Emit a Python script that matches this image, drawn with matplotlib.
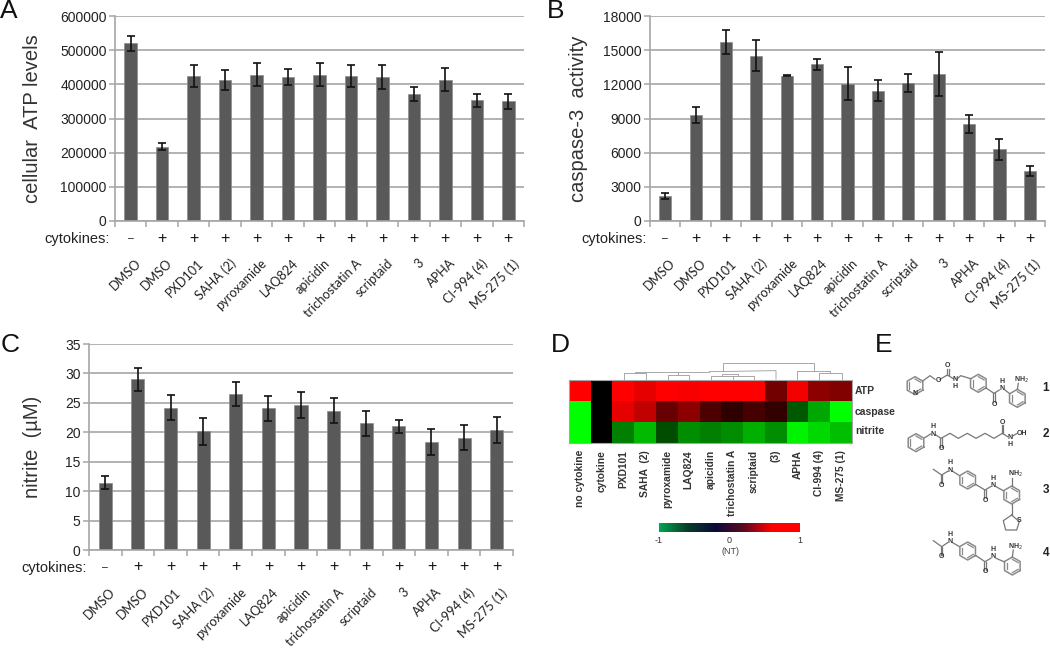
import numpy as np
import matplotlib as mpl
mpl.use('Agg')
import matplotlib.pyplot as plt
from matplotlib.colors import LinearSegmentedColormap

plt.rcParams['font.family'] = ['Liberation Sans', 'DejaVu Sans']

compounds = ['DMSO', 'DMSO', 'PXD101', 'SAHA (2)', 'pyroxamide', 'LAQ824', 'apicidin',
             'trichostatin A', 'scriptaid', '3', 'APHA', 'CI-994 (4)', 'MS-275 (1)']
cytokines = ['\u2013', '+', '+', '+', '+', '+', '+', '+', '+', '+', '+', '+', '+']

atp = [520000, 217000, 424000, 412000, 428000, 421000, 428000, 425000, 422000, 372000, 414000, 353000, 350000]
atp_err = [22000, 10000, 33000, 29000, 33000, 23000, 33000, 33000, 35000, 20000, 33000, 19000, 22000]
atp_ticks = [0, 100000, 200000, 300000, 400000, 500000, 600000]

caspase = [2200, 9300, 15700, 14500, 12750, 13750, 12050, 11450, 12150, 12900, 8500, 6300, 4400]
caspase_err = [300, 700, 1050, 1350, 60, 480, 1450, 900, 780, 1950, 780, 900, 470]
caspase_ticks = [0, 3000, 6000, 9000, 12000, 15000, 18000]

nitrite = [11.4, 29, 24.2, 20.2, 26.5, 24.1, 24.6, 23.7, 21.5, 21, 18.3, 19.1, 20.4]
nitrite_err = [1.1, 2, 2.1, 2.3, 2.1, 2.1, 2.2, 2.2, 2.1, 1.1, 2.2, 2.1, 2.2]
nitrite_ticks = [0, 5, 10, 15, 20, 25, 30, 35]

heat_cols = ['no cytokine', 'cytokine', 'PXD101', 'SAHA  (2)', 'pyroxamide', 'LAQ824', 'apicidin',
             'trichostatin A', 'scriptaid', '(3)', 'APHA', 'CI-994 (4)', 'MS-275 (1)']
heat_rows = ['ATP', 'caspase', 'nitrite']
heat_atp = [1, 0, 1, .9, 1, .97, 1, 1, 1, .45, .95, .55, .5]
heat_caspase = [-1, 0, .9, .75, .4, .55, .3, .18, .28, .2, -.35, -.65, -1]
heat_nitrite = [-1, 0, -.5, -.72, -.3, -.55, -.5, -.55, -.68, -.55, -.95, -.85, -.75]

# dendrogram and structures, in 3x crop pixels
dendro = [[(520, 122), (520, 98), (792, 98), (792, 122)],
          [(255, 125), (478, 125)], [(222, 147), (222, 130), (288, 130), (288, 147)],
          [(353, 147), (353, 135), (418, 135), (418, 147)], [(385, 135), (385, 128)],
          [(482, 147), (482, 138), (612, 138), (612, 147)], [(515, 138), (515, 133), (565, 133), (565, 138)],
          [(548, 147), (548, 138)], [(478, 125), (678, 122), (678, 147)],
          [(742, 147), (742, 122), (840, 122), (840, 130)], [(808, 147), (808, 130), (875, 130), (875, 147)]]

rings = [(225, 167), (415, 160), (532, 205), (228, 338), (383, 450), (515, 495), (383, 663), (517, 708)]
bonds = [[(248, 153), (270, 137), (285, 148)], [(300, 148), (322, 135), (340, 146)], [(352, 146), (362, 137), (392, 146)],
         [(322, 135), (322, 118)], [(326, 135), (326, 118)], [(438, 174), (462, 190), (478, 180)], [(460, 190), (460, 215)],
         [(464, 190), (464, 215)], [(495, 180), (509, 191)], [(532, 178), (535, 160)],
         [(254, 323), (272, 312)], [(286, 314), (303, 325), (330, 310), (355, 325), (382, 310), (408, 325), (435, 310),
                                    (462, 325), (487, 310), (503, 320)],
         [(301, 325), (301, 350)], [(305, 325), (305, 350)], [(485, 310), (485, 285)], [(489, 310), (489, 285)], [(518, 318), (530, 311)],
         [(280, 418), (305, 435), (323, 424)], [(303, 435), (303, 460)], [(307, 435), (307, 460)], [(338, 424), (357, 436)],
         [(408, 464), (435, 480), (452, 470)], [(433, 480), (433, 505)], [(437, 480), (437, 505)], [(468, 470), (490, 482)],
         [(515, 468), (515, 445)], [(515, 522), (515, 555)],
         [(280, 632), (305, 650), (323, 638)], [(303, 650), (303, 675)], [(307, 650), (307, 675)], [(338, 638), (357, 649)],
         [(408, 677), (435, 695), (452, 685)], [(433, 695), (433, 720)], [(437, 695), (437, 720)], [(468, 685), (492, 695)],
         [(517, 681), (520, 660)]]
thiophene = [(515, 555), (490, 572), (497, 600), (530, 600), (538, 575), (515, 555)]
atoms = [('N', 225, 190), ('O', 295, 150), ('O', 322, 106), ('N', 345, 148), ('H', 345, 170), ('O', 462, 222), ('N', 487, 176),
         ('H', 487, 154), ('NH$_2$', 545, 150), ('N', 280, 312), ('H', 280, 290), ('O', 305, 356), ('O', 487, 278),
         ('N', 511, 322), ('H', 511, 344), ('OH', 545, 310), ('O', 305, 466), ('N', 330, 421), ('H', 330, 399), ('O', 435, 510),
         ('N', 460, 467), ('H', 460, 445), ('NH$_2$', 527, 433), ('S', 538, 572), ('O', 305, 680), ('N', 330, 634), ('H', 330, 612),
         ('O', 435, 725), ('N', 460, 680), ('H', 460, 658), ('NH$_2$', 527, 650)]
numbers = [('1', 617, 175), ('2', 617, 313), ('3', 617, 480), ('4', 617, 668)]


def add_axes_px(fig, left, top, right, bottom):
    return fig.add_axes([left / 1050, 1 - bottom / 649, (right - left) / 1050, (bottom - top) / 649])


def bar_panel(fig, box, values, errors, ticks, ylabel, ylabel_x, cyto_x):
    ax = add_axes_px(fig, *box)
    x = np.arange(len(values))
    ax.set_axisbelow(True)
    ax.bar(x, values, width=0.4, color='#595959', edgecolor='#8c8c8c', linewidth=0.5)
    ax.errorbar(x, values, yerr=errors, fmt='none', ecolor='#111111', elinewidth=1.2, capsize=3.2, capthick=1.2)
    ax.set_xlim(-0.5, len(values) - 0.5)
    ax.set_ylim(ticks[0], ticks[-1])
    ax.set_yticks(ticks)
    ax.set_yticklabels([str(t) for t in ticks], fontsize=10, color='#222222')
    ax.set_xticks(np.arange(len(values) + 1) - 0.5)
    ax.set_xticklabels([])
    ax.tick_params(axis='both', length=4, width=1.1, color='#a6a6a6', pad=2)
    ax.grid(axis='y', color='#b2b2b2', linewidth=1.4)
    for side in ['top', 'right']:
        ax.spines[side].set_visible(False)
    for side in ['left', 'bottom']:
        ax.spines[side].set_color('#a6a6a6')
        ax.spines[side].set_linewidth(1.2)
    trans = ax.get_xaxis_transform()
    for i, name in enumerate(compounds):
        ax.annotate(cytokines[i], xy=(i, 0), xycoords=trans, xytext=(0, -17), textcoords='offset pixels',
                    ha='center', va='center', fontsize=11.5 if cytokines[i] == '+' else 7.5, color='#111111')
        ax.annotate(name, xy=(i, 0), xycoords=trans, xytext=(4, -36), textcoords='offset pixels',
                    rotation=45, rotation_mode='anchor', ha='right', va='top', fontsize=9.2,
                    color='#222222', family=['Lato', 'DejaVu Sans'])
    mid = (box[1] + box[3]) / 2
    fig.text(ylabel_x / 1050, 1 - mid / 649, ylabel, rotation=90, ha='center', va='center', fontsize=14.5, color='#333333')
    fig.text(cyto_x / 1050, 1 - (box[3] + 18) / 649, 'cytokines:', ha='right', va='center', fontsize=10.5, color='#222222')
    return ax


fig = plt.figure(figsize=(10.5, 6.49), dpi=100)

bar_panel(fig, (115, 16, 524, 221), atp, atp_err, atp_ticks, 'cellular  ATP levels', 33, 110)
bar_panel(fig, (650, 16, 1045, 221), caspase, caspase_err, caspase_ticks, 'caspase-3  activity', 578, 647)
bar_panel(fig, (89, 344, 513, 550), nitrite, nitrite_err, nitrite_ticks, 'nitrite  (\u00b5M)', 32, 87)

# heat map
ax_h = add_axes_px(fig, 569, 380, 852, 443)
heat_cmap = LinearSegmentedColormap.from_list('gbr', ['#00ff00', '#000000', '#ff0000'])
ax_h.imshow([heat_atp, heat_caspase, heat_nitrite], cmap=heat_cmap, vmin=-1, vmax=1, aspect='auto')
ax_h.set_xticks([])
ax_h.set_yticks([])
for s in ax_h.spines.values():
    s.set_color('#a6a6a6')
for i, name in enumerate(heat_cols):
    ax_h.annotate(name, xy=(i, 0), xycoords=ax_h.get_xaxis_transform(), xytext=(0, -7), textcoords='offset pixels',
                  rotation=90, ha='center', va='top', fontsize=7.4, fontweight='bold', color='#333333')

# colour scale
ax_c = add_axes_px(fig, 659, 523, 800, 532)
scale_cmap = LinearSegmentedColormap.from_list('scale', ['#00a651', '#0b3d2a', '#0a0a3a', '#5a0a20', '#ff0000', '#ff0000'])
ax_c.imshow(np.linspace(-1, 1, 256)[None, :], cmap=scale_cmap, aspect='auto', extent=(-1, 1, 0, 1))
ax_c.set_yticks([])
ax_c.set_xticks([-1, 0, 1])
ax_c.set_xticklabels(['-1', '0', '1'], fontsize=6.5, color='#333333')
ax_c.tick_params(axis='x', length=0, pad=3)
for s in ax_c.spines.values():
    s.set_visible(False)

# overlay in figure pixels for panel letters, dendrogram and structures
ov = fig.add_axes([0, 0, 1, 1], facecolor='none')
ov.set_xlim(0, 1050)
ov.set_ylim(649, 0)
ov.axis('off')

for letter, lx, ly in [('A', 0, 18), ('B', 547, 18), ('C', 1, 352), ('D', 551, 352), ('E', 875, 352)]:
    ov.text(lx, ly, letter, fontsize=19, color='#111111', ha='left', va='baseline')

ov.text(730, 552, '(NT)', fontsize=6.5, color='#444444', ha='center', va='center')

for line in dendro:
    pts = np.array(line) / 3 + [550, 330]
    ov.plot(pts[:, 0], pts[:, 1], color='#9a9a9a', lw=0.6)

for name, nx, ny in zip(heat_rows, [855, 855, 855], [391, 412, 431]):
    ov.text(nx, ny, name, fontsize=7.5, fontweight='bold', color='#333333', ha='left', va='center')

for cx, cy in rings:
    ang = np.deg2rad(np.arange(30, 391, 60))
    pts = np.c_[cx + 27 * np.cos(ang), cy + 27 * np.sin(ang)] / 3 + [840, 330]
    ov.plot(pts[:, 0], pts[:, 1], color='#8a8a8a', lw=1.1)
    inner = np.c_[cx + 20 * np.cos(ang), cy + 20 * np.sin(ang)] / 3 + [840, 330]
    for k in [0, 2, 4]:
        ov.plot(inner[k:k + 2, 0], inner[k:k + 2, 1], color='#8a8a8a', lw=0.9)
for line in bonds + [thiophene]:
    pts = np.array(line) / 3 + [840, 330]
    ov.plot(pts[:, 0], pts[:, 1], color='#777777', lw=0.9)
for label, ax_x, ax_y in atoms:
    ov.text(840 + ax_x / 3, 330 + ax_y / 3, label, fontsize=5, color='#333333', ha='center', va='center', fontweight='bold')
for label, ax_x, ax_y in numbers:
    ov.text(840 + ax_x / 3, 330 + ax_y / 3, label, fontsize=8.5, color='#222222', ha='center', va='center', fontweight='bold')

plt.savefig('out.png', dpi=100)
